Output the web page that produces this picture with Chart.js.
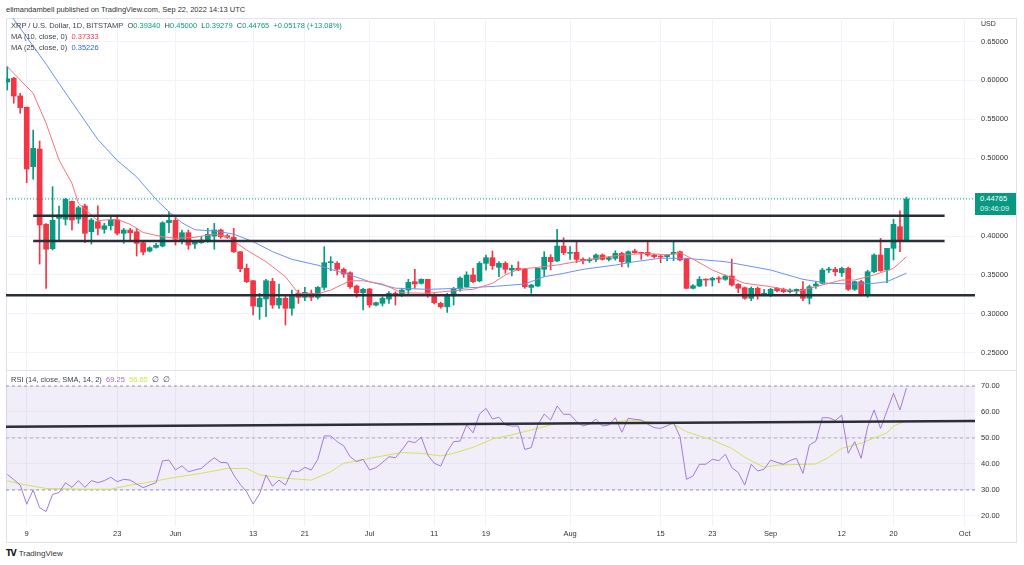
<!DOCTYPE html>
<html>
<head>
<meta charset="utf-8">
<script src="https://cdn.jsdelivr.net/npm/chart.js@4.4.0/dist/chart.umd.min.js"></script>
<style>
  body{margin:0;width:1024px;height:565px;background:#fff;position:relative;overflow:hidden;font-family:"Liberation Sans",Arial,sans-serif;}
  .abs{position:absolute;white-space:nowrap;}
  #hdr{left:6px;top:5px;font-size:7.5px;color:#333;line-height:10px;}
  #frame{left:6px;top:18px;width:1011px;height:525px;border:1px solid #e0e3eb;box-sizing:border-box;}
  #sep{left:6px;top:370px;width:1011px;height:1px;background:#e0e3eb;}
  #priceBox{left:6px;top:18px;}
  #rsiBox{left:6px;top:371px;}
  .lg{font-size:7.5px;color:#3f434e;line-height:11px;left:11px;z-index:2;}
  .g{color:#089981}
  #usd{left:981px;top:20px;font-size:7px;color:#333;z-index:2;}
  #tag{left:975px;top:193px;width:41px;height:22px;background:#089981;color:#fff;font-size:7.5px;line-height:10px;padding:1px 0 0 5px;box-sizing:border-box;z-index:2;}
  #logo{left:6px;top:548px;font-size:8px;color:#333;line-height:11px;}
  #logo b{font-family:"DejaVu Sans";font-weight:900;color:#131722;letter-spacing:-1px;margin-right:3px;}
</style>
</head>
<body>
<div id="hdr" class="abs">elimandambell published on TradingView.com, Sep 22, 2022 14:13 UTC</div>
<div id="frame" class="abs"></div>
<canvas id="price" class="abs" width="1011" height="352" style="left:6px;top:18px"></canvas>
<div id="sep" class="abs"></div>
<canvas id="rsi" class="abs" width="1011" height="172" style="left:6px;top:371px"></canvas>

<div class="abs lg" style="top:20px">XRP / U.S. Dollar, 1D, BITSTAMP&nbsp; O<span class="g">0.39340</span>&nbsp; H<span class="g">0.45000</span>&nbsp; L<span class="g">0.39279</span>&nbsp; C<span class="g">0.44765</span>&nbsp; <span class="g">+0.05178 (+13.08%)</span></div>
<div class="abs lg" style="top:31px">MA (10, close, 0)&nbsp; <span style="color:#f23645">0.37333</span></div>
<div class="abs lg" style="top:42px">MA (25, close, 0)&nbsp; <span style="color:#2962ff">0.35226</span></div>
<div class="abs lg" style="top:374px">RSI (14, close, SMA, 14, 2)&nbsp; <span style="color:#9c6ad6">69.25</span>&nbsp; <span style="color:#d4e157">56.65</span>&nbsp; ∅&nbsp; ∅</div>
<div id="usd" class="abs">USD</div>
<div id="tag" class="abs">0.44765<br><span style="opacity:.85">09:46:09</span></div>
<div id="logo" class="abs"><b>TV</b>TradingView</div>

<script>
/* ---------- data (day 0 = May 6, 2022) ---------- */
const opens = [
  0.598,0.6027,0.580,0.5654,0.4891,0.5118,0.415,0.3837,0.4227,0.4215,
  0.4446,0.4219,0.4386,0.4055,0.4184,0.4086,0.4132,0.4206,0.4035,0.4077,
  0.4055,0.3914,0.3807,0.3854,0.3871,0.4171,0.4202,0.3949,0.4043,0.3897,
  0.3914,0.394,0.40,0.4077,0.4004,0.3983,0.3798,0.3585,0.3425,0.3091,
  0.319,0.3417,0.3113,0.32,0.3071,0.3264,0.3212,0.3264,0.3212,0.334,
  0.3657,0.3649,0.3572,0.3528,0.3357,0.3271,0.3319,0.3113,0.3135,0.319,
  0.3264,0.3242,0.3306,0.3413,0.3392,0.3443,0.3242,0.3135,0.3091,0.3229,
  0.3320,0.3348,0.3499,0.3422,0.3649,0.3721,0.3598,0.3649,0.3563,0.3585,
  0.3572,0.3340,0.3357,0.3572,0.3726,0.3679,0.3871,0.3778,0.379,0.37,
  0.3683,0.37,0.3756,0.37,0.3713,0.3777,0.3657,0.3807,0.3785,0.379,
  0.3756,0.374,0.3735,0.3769,0.3798,0.37,0.3328,0.3357,0.3443,0.3434,
  0.3456,0.3443,0.3486,0.3379,0.3336,0.32,0.3328,0.3242,0.3242,0.3328,
  0.3315,0.3285,0.3297,0.3315,0.32,0.3357,0.3392,0.3563,0.3572,0.3528,
  0.3585,0.3315,0.3413,0.3242,0.3541,0.3756,0.3563,0.3842,0.412,0.3934];
const highs = [
  0.6176,0.604,0.5834,0.566,0.5362,0.5221,0.416,0.4634,0.4386,0.4485,
  0.445,0.4386,0.4411,0.4227,0.4389,0.4163,0.424,0.427,0.4099,0.4099,
  0.4099,0.3925,0.3863,0.3905,0.4184,0.4312,0.4248,0.4077,0.4077,0.394,
  0.3991,0.4099,0.4163,0.409,0.402,0.4099,0.38,0.364,0.343,0.3264,
  0.3443,0.3456,0.3383,0.323,0.3306,0.3306,0.334,0.3306,0.335,0.3863,
  0.3734,0.367,0.359,0.354,0.337,0.3328,0.3328,0.3152,0.322,0.3285,
  0.3285,0.3328,0.3443,0.3572,0.345,0.3443,0.326,0.315,0.3264,0.334,
  0.3477,0.3541,0.3585,0.367,0.3756,0.3807,0.367,0.367,0.3627,0.367,
  0.3585,0.338,0.359,0.3798,0.376,0.4086,0.3978,0.3863,0.3927,0.372,
  0.372,0.377,0.377,0.374,0.381,0.379,0.381,0.383,0.379,0.3927,
  0.3765,0.375,0.376,0.3927,0.3805,0.3715,0.3377,0.3477,0.3445,0.347,
  0.348,0.35,0.3704,0.339,0.3345,0.3345,0.3345,0.3315,0.3328,0.334,
  0.333,0.332,0.332,0.3413,0.337,0.341,0.3585,0.3598,0.3598,0.36,
  0.36,0.342,0.343,0.356,0.377,0.397,0.3842,0.4215,0.4325,0.45];
const lows = [
  0.5877,0.5706,0.5577,0.4685,0.4729,0.364,0.3328,0.382,0.3949,0.4141,
  0.4077,0.4163,0.3914,0.3897,0.4013,0.4035,0.4077,0.4013,0.3906,0.3949,
  0.3743,0.3756,0.3794,0.3845,0.386,0.4043,0.3884,0.3897,0.3829,0.3842,
  0.3905,0.392,0.3829,0.397,0.397,0.3785,0.3541,0.34,0.2985,0.2929,
  0.2963,0.3071,0.3071,0.2856,0.2982,0.3135,0.317,0.317,0.319,0.3306,
  0.3554,0.3499,0.3469,0.3328,0.3212,0.3049,0.3084,0.31,0.31,0.3135,
  0.3113,0.322,0.3242,0.3328,0.3383,0.3212,0.3126,0.3071,0.3019,0.3113,
  0.329,0.334,0.34,0.341,0.356,0.3572,0.3477,0.352,0.3486,0.3555,
  0.3328,0.3264,0.335,0.3477,0.3563,0.367,0.376,0.37,0.3657,0.364,
  0.366,0.367,0.369,0.368,0.369,0.3605,0.36,0.378,0.37,0.374,
  0.372,0.3657,0.368,0.3683,0.368,0.332,0.332,0.335,0.3357,0.3357,
  0.34,0.343,0.3357,0.3271,0.3187,0.3169,0.3187,0.323,0.322,0.328,
  0.327,0.327,0.3255,0.3169,0.3126,0.3328,0.3385,0.353,0.349,0.348,
  0.33,0.33,0.323,0.3212,0.353,0.3545,0.34,0.3692,0.3798,0.39279];
const closes = [
  0.602,0.5799,0.565,0.4861,0.5127,0.4141,0.383,0.4202,0.427,0.4472,
  0.4206,0.4364,0.4035,0.4206,0.4099,0.4132,0.4206,0.4035,0.4077,0.4043,
  0.3906,0.3794,0.385,0.388,0.4171,0.4202,0.3958,0.4043,0.3884,0.3927,
  0.3949,0.4022,0.4077,0.3991,0.3983,0.3798,0.358,0.3413,0.31,0.3199,
  0.3425,0.3113,0.32,0.3071,0.3242,0.3212,0.3276,0.3212,0.334,0.3657,
  0.367,0.3572,0.3512,0.3348,0.3271,0.3315,0.3113,0.3143,0.32,0.3264,
  0.3233,0.3306,0.3405,0.3383,0.3443,0.3242,0.3143,0.3091,0.3229,0.3328,
  0.346,0.3499,0.3413,0.3649,0.3721,0.3618,0.3649,0.3572,0.3585,0.3563,
  0.3348,0.337,0.3585,0.3726,0.367,0.3871,0.3785,0.379,0.37,0.3683,
  0.37,0.3756,0.37,0.3721,0.3777,0.367,0.3798,0.3785,0.3777,0.3756,
  0.3735,0.373,0.3756,0.379,0.3692,0.3328,0.3361,0.3443,0.3434,0.3456,
  0.3447,0.3486,0.337,0.3328,0.32,0.3328,0.3242,0.3264,0.3315,0.3297,
  0.3285,0.3306,0.3315,0.32,0.3348,0.3383,0.3563,0.3576,0.3541,0.3585,
  0.3315,0.3413,0.3242,0.3541,0.3756,0.3554,0.3842,0.415,0.3949,0.44765];

const ma10Days   = [0,4,6,8,10,11,13,14,15,17,19,21,24,26,29,32,34,37,40,43,45,48,50,53,55,58,61,65,69,72,75,77,79,82,85,88,91,95,99,102,104,106,109,114,118,122,125,129,131,134,137,139];
const ma10Values = [0.6176,0.5834,0.5449,0.4977,0.4677,0.442,0.427,0.4197,0.4206,0.4215,0.415,0.4045,0.3991,0.397,0.3983,0.4026,0.3991,0.382,0.367,0.3477,0.3264,0.3255,0.3306,0.3425,0.3425,0.3383,0.3271,0.3264,0.3297,0.3315,0.3392,0.3499,0.3572,0.3598,0.3627,0.367,0.3713,0.3756,0.3777,0.3756,0.3785,0.3704,0.3563,0.3392,0.3349,0.3284,0.3349,0.3434,0.3434,0.3499,0.3585,0.37333];
const ma25Days   = [0,6,8,11,14,17,20,23,25,27,29,32,35,38,41,44,48,50,53,56,60,65,70,76,80,83,86,89,94,97,101,105,111,118,123,127,131,134,136,139];
const ma25Values = [0.690,0.621,0.596,0.560,0.524,0.497,0.476,0.447,0.431,0.417,0.408,0.4065,0.4025,0.3927,0.380,0.370,0.3625,0.3572,0.350,0.3413,0.333,0.3315,0.3328,0.3357,0.3383,0.3477,0.352,0.3572,0.3627,0.367,0.3715,0.3713,0.367,0.3563,0.3443,0.3392,0.3383,0.3392,0.3413,0.35226];

const rsiValues = [
  36,34,31.9,24.5,30,23.2,21.7,28.3,29,32.8,
  31,33.6,31,33.6,32.8,33.6,34.9,33.2,34.1,33.8,
  32.3,30.9,31.9,32.8,41.2,41.5,37.7,39.3,37,37.7,
  38.3,40.5,42.4,40.6,40.5,35.8,32.2,29.3,24.6,28.5,
  35.8,31.5,33.8,31.9,37.4,37,38.7,37.7,41.8,50.8,
  50.8,48.6,47,42.8,40.9,41.8,37.7,38.6,40.6,42.8,
  42.4,45.4,48.8,48.2,50.3,43.5,40.3,39.2,44.7,48.6,
  48.8,55,52,59.2,61.4,57.3,58,55,54.6,54.6,
  45.6,46.3,55,59.2,56.9,62.3,59.1,59.1,56.3,54.6,
  55.4,57.2,54.6,55,57.8,52.2,57.6,57.2,56.9,55.3,
  54,53.7,54.7,55.9,50.5,34.1,35.4,39.9,39.9,41.8,
  41.3,43.7,38.6,36.7,31.9,39.9,37.3,38,41.5,40.6,
  39.9,41.3,42.2,36.4,47.3,48.8,57.8,57.8,56.7,58.8,
  44.1,48.6,42.2,54.3,60.8,53.7,60.5,67.2,60.8,69.25];
const rsiMaDays   = [0,3,6,12,16,19,21,26,30,34,37,39,43,47,50,52,56,58,61,64,67,69,72,75,78,81,84,86,90,93,96,98,101,103,105,109,112,114,117,119,125,127,129,132,136,137,139];
const rsiMaValues = [33.5,31.9,30.6,30.3,30.3,31.9,32.6,34.9,36.4,38.3,38.3,35.8,34.5,33.8,37,40.3,42.2,43.1,44.4,44.1,43.1,44.1,46.4,49.6,51.2,53.1,55,56,55.6,55.6,56.9,56.7,55.6,55.3,52.4,49.2,46,42.6,38.7,39.6,40,42.6,46,48,52,54.6,56.65];

// hand drawn levels
const levelValues = [0.4261, 0.3936, 0.3238];
const levelFrom   = [4, 4, -0.2];
const levelTo     = [144.9, 144.9, 149.6];
const rsiTrend    = [54.3, 56.5];
const lastPrice   = 0.44765;

const tickDays   = [3,17,26,38,46,56,66,74,87,101,109,118,129,137,148];
const tickLabels = ['9','23','Jun','13','21','Jul','11','19','Aug','15','23','Sep','12','20','Oct'];
const priceTicks = [0.25,0.30,0.35,0.40,0.45,0.50,0.55,0.60,0.65];
const rsiTicks   = [20,30,40,50,60,70];

/* ---------- look ---------- */
const X_MIN = -0.2, X_MAX = 149.6;
const P_MIN = 0.2278, P_MAX = 0.6802;
const R_MIN = 16.15, R_MAX = 75.77;
const UP = '#089981', DOWN = '#f23645', GRID = '#f0f3fa', TEXT = '#333';
const LINE = '#2a2e39';

Chart.defaults.font.family = '"Liberation Sans", Arial, sans-serif';
Chart.defaults.font.size = 7.5;
Chart.defaults.color = TEXT;
Chart.defaults.animation = false;

const days = opens.map((_, i) => i);
const candleColors = opens.map((o, i) => closes[i] >= o ? UP : DOWN);
const pts = (xs, ys) => xs.map((x, i) => ({ x: x, y: ys[i] }));
const flat = (x0, x1, v) => [{ x: x0, y: v }, { x: x1, y: v }];

function xAxis(showLabels){
  return {
    type: 'linear', min: X_MIN, max: X_MAX, offset: false,
    grid: { color: GRID, drawTicks: false, offset: false },
    border: { display: false },
    ticks: { display: showLabels, autoSkip: false, maxRotation: 0, padding: 3, color: TEXT,
             callback: v => { const k = tickDays.indexOf(v); return k < 0 ? '' : tickLabels[k]; } },
    afterBuildTicks: s => { s.ticks = tickDays.map(v => ({ value: v })); },
    afterFit: s => { s.height = showLabels ? 17 : 0; s.paddingLeft = 0; s.paddingRight = 0; }
  };
}
function yAxis(min, max, list, digits){
  return {
    position: 'right', min: min, max: max,
    grid: { color: GRID, drawTicks: false },
    border: { display: false },
    ticks: { padding: 6, color: TEXT, callback: v => v.toFixed(digits) },
    afterBuildTicks: s => { s.ticks = list.map(v => ({ value: v })); },
    afterFit: s => { s.width = 42; s.paddingTop = 0; s.paddingBottom = 0; }
  };
}
const lineSet = (data, color, width, extra) => Object.assign({
  type: 'line', data: data, borderColor: color, borderWidth: width,
  pointRadius: 0, tension: 0, fill: false, order: 1
}, extra || {});

/* ---------- price panel ---------- */
const priceSets = [
  { type: 'bar', data: days.map(d => ({ x: d, y: [lows[d], highs[d]] })),
    backgroundColor: candleColors, barThickness: 1, grouped: false, order: 4 },
  { type: 'bar', data: days.map(d => ({ x: d, y: [opens[d], closes[d]] })),
    backgroundColor: candleColors, barThickness: 5, minBarLength: 1, grouped: false, order: 3 },
  lineSet(flat(X_MIN, X_MAX, lastPrice), UP, 1, { borderDash: [1, 2], order: 5 }),
  lineSet(pts(ma10Days, ma10Values), '#f7737c', 1),
  lineSet(pts(ma25Days, ma25Values), '#6b91f2', 1)
];
levelValues.forEach((v, i) => priceSets.push(lineSet(flat(levelFrom[i], levelTo[i], v), LINE, 2.5, { order: 0 })));

new Chart(document.getElementById('price'), {
  type: 'bar',
  data: { datasets: priceSets },
  options: {
    responsive: false,
    layout: { padding: 0 },
    plugins: { legend: { display: false }, tooltip: { enabled: false } },
    scales: { x: xAxis(false), y: yAxis(P_MIN, P_MAX, priceTicks, 5) }
  }
});

/* ---------- RSI panel ---------- */
const dash = { borderDash: [3, 3], order: 3 };
new Chart(document.getElementById('rsi'), {
  type: 'line',
  data: { datasets: [
    lineSet(flat(X_MIN, X_MAX, 70), '#9598a1', 1, Object.assign({ fill: { value: 30 }, backgroundColor: 'rgba(126,87,194,0.1)' }, dash)),
    lineSet(flat(X_MIN, X_MAX, 50), '#b2b5be', 1, dash),
    lineSet(flat(X_MIN, X_MAX, 30), '#9598a1', 1, dash),
    lineSet(pts(rsiMaDays, rsiMaValues), '#d4e157', 1, { order: 2 }),
    lineSet(pts(days, rsiValues), '#a27bd8', 1, { order: 1 }),
    lineSet([{ x: X_MIN, y: rsiTrend[0] }, { x: X_MAX, y: rsiTrend[1] }], LINE, 2.5, { order: 0 })
  ]},
  options: {
    responsive: false,
    layout: { padding: 0 },
    plugins: { legend: { display: false }, tooltip: { enabled: false } },
    scales: { x: xAxis(true), y: yAxis(R_MIN, R_MAX, rsiTicks, 2) }
  }
});
</script>
</body>
</html>
